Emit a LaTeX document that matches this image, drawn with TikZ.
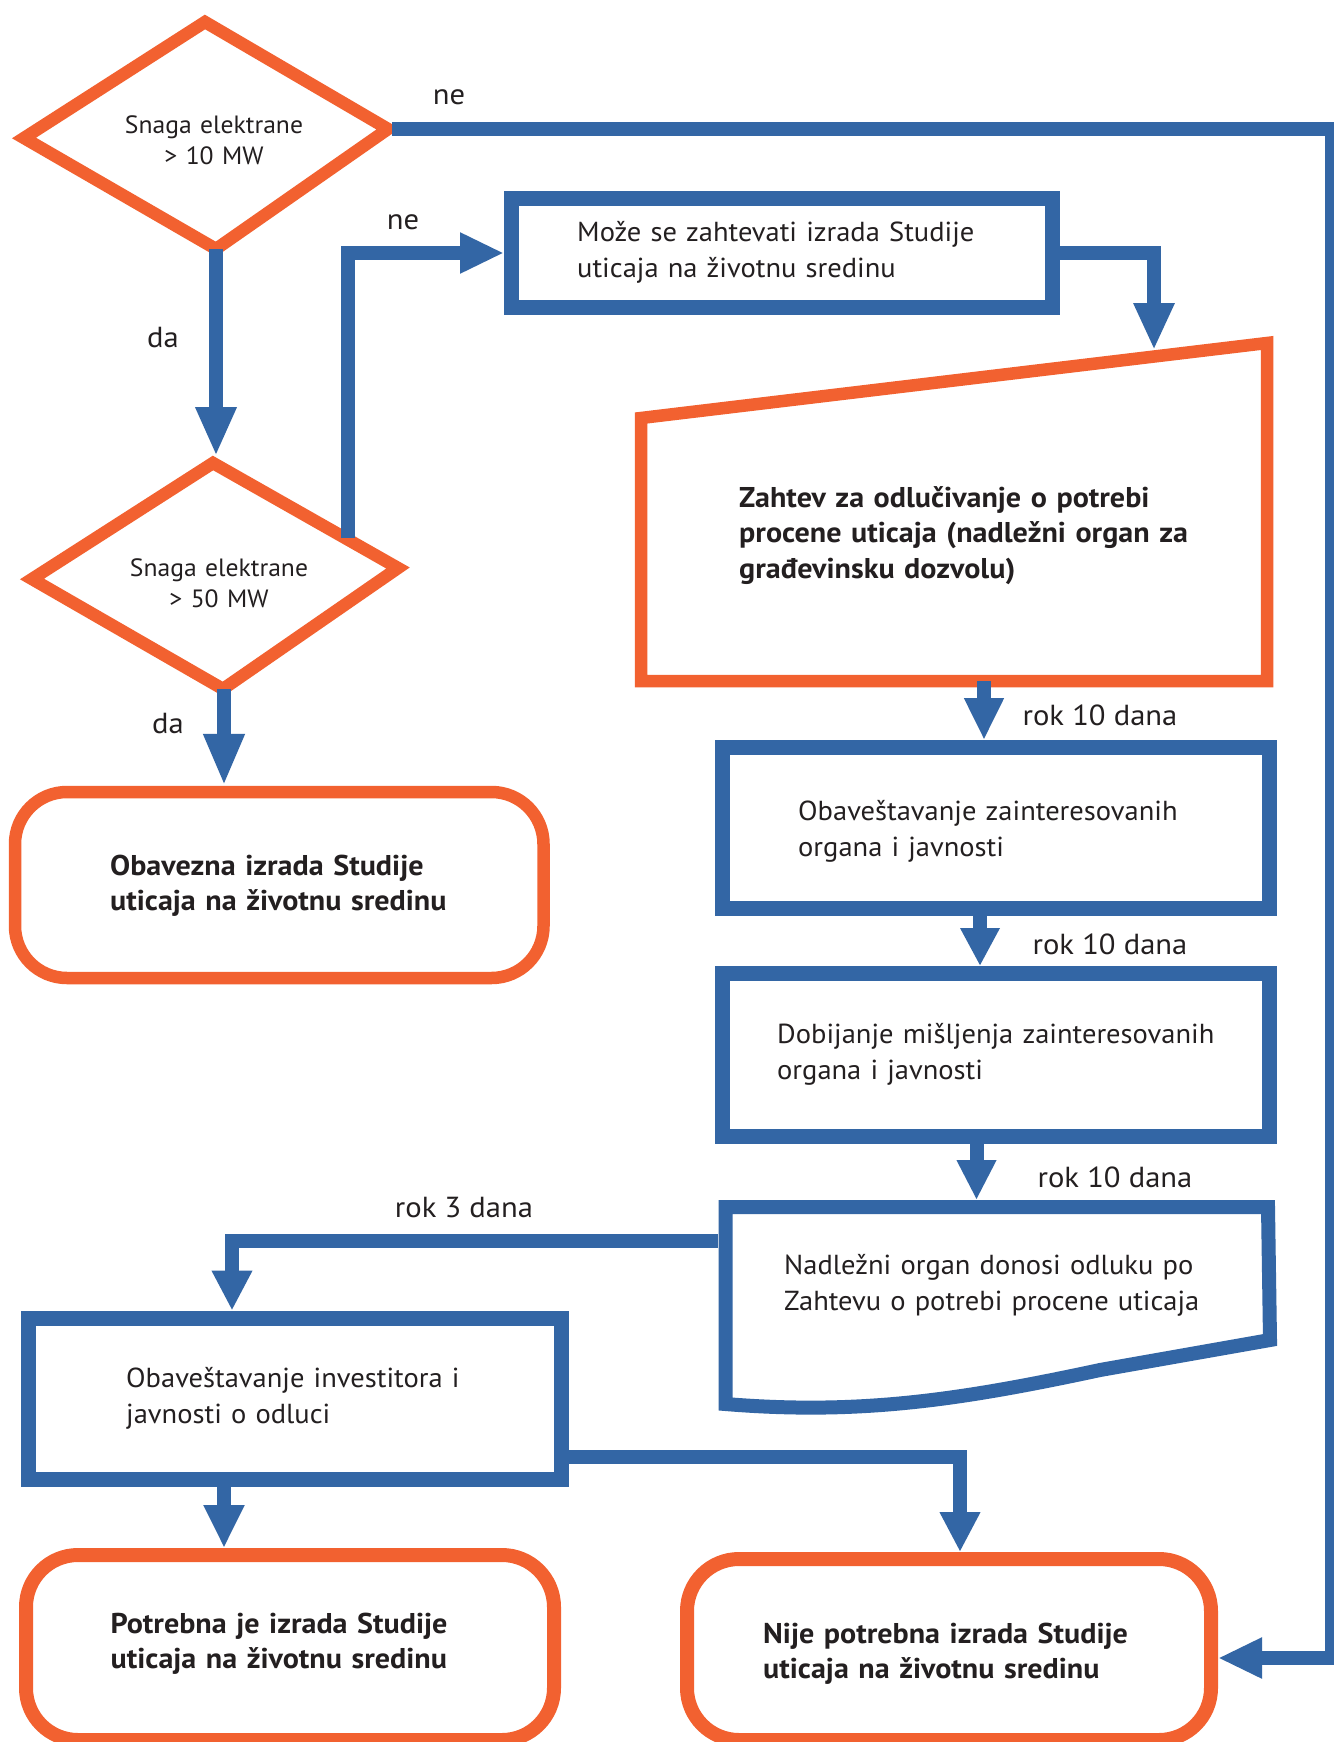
\documentclass[tikz,border=0pt]{standalone}
\usepackage{fontspec}
\setmainfont{PT Sans}
\newfontfamily\bodyf[FakeStretch=1.037]{PT Sans}
\newfontfamily\boldf[FakeStretch=1.052]{PT Sans}
\newfontfamily\lblf[FakeStretch=1.055]{PT Sans}
\newfontfamily\diaf[FakeStretch=1.025]{PT Sans}
\usetikzlibrary{arrows.meta}
\definecolor{orng}{HTML}{F26130}
\definecolor{blu}{HTML}{3366A5}
\definecolor{txt}{HTML}{231F20}
\tikzset{
  conn/.style={draw=blu, line width=14pt, -{Triangle[length=44pt,width=38pt]}},
  bluebox/.style={draw=blu, line width=15pt, rectangle, inner sep=0pt},
  roundbox/.style={draw=orng, line width=13pt, rectangle, rounded corners=52pt, inner sep=0pt},
  orngshape/.style={draw=orng, line width=12.5pt, line join=miter},
  bodytxt/.style={inner sep=0pt, anchor=base west, text width=560pt, align=left, text=txt,
                  font=\bodyf\fontsize{27.5}{36}\selectfont},
  boldtxt/.style={bodytxt, font=\boldf\fontsize{28.6}{35.5}\selectfont\bfseries},
  dtxt/.style={inner sep=0pt, anchor=base, text width=300pt, align=center, text=txt,
               font=\diaf\fontsize{25}{31}\selectfont},
  lbl/.style={inner sep=0pt, anchor=base, text=txt, font=\lblf\fontsize{29}{34}\selectfont}
}
\begin{document}
\begin{tikzpicture}[x=1pt,y=-1pt]
\useasboundingbox (0,0) rectangle (1333,1742);
\fill[white] (0,0) rectangle (1333,1742);

% diamonds
\draw[orngshape] (205,22) -- (388,129) -- (216,249) -- (24,138) -- cycle;
\draw[orngshape] (213,463) -- (398,568) -- (223,689) -- (32,579) -- cycle;
\coordinate (d1r) at (392,129.5);
\coordinate (d1b) at (216,249);
\coordinate (d2t) at (216,456);
\coordinate (d2ne) at (348,538);
\coordinate (d2b) at (224,689);
\node[dtxt] (d1txt) at (214,134) {Snaga elektrane\\> 10 MW};
\node[dtxt] (d2txt) at (219,576) {Snaga elektrane\\> 50 MW};

% blue rectangles
\node[bluebox, minimum width=541pt, minimum height=109pt] (box2) at (782,253) {};
\node[bluebox, minimum width=546.5pt, minimum height=161pt] (box4) at (995.75,828) {};
\node[bluebox, minimum width=546.5pt, minimum height=162.5pt] (box5) at (995.75,1054.75) {};
\node[bluebox, minimum width=532.5pt, minimum height=161.5pt] (box7) at (294.75,1398.75) {};

% manual input shape
\draw[orngshape] (641,418) -- (1267,343) -- (1267,681) -- (641,681) -- cycle;
\coordinate (b3top) at (1154,350);
\coordinate (b3bot) at (984,681);

% document shape
\draw[draw=blu, line width=14pt, line join=miter] (725.5,1207) -- (1268,1207) -- (1270,1340) -- (1100,1370)
   .. controls (960,1400) and (860,1415) .. (725.5,1404) -- cycle;
\coordinate (b6top) at (976.5,1200);
\coordinate (b6l) at (718,1241);

% rounded terminals
\node[roundbox, line width=12.5pt, minimum width=528.5pt, minimum height=186pt] (box1) at (279.25,885) {};
\node[roundbox, line width=14pt, minimum width=528pt, minimum height=185pt] (box8) at (290,1647.5) {};
\node[roundbox, line width=14pt, minimum width=524pt, minimum height=181pt] (box9) at (949,1649.5) {};

% texts
\node[bodytxt] (t2) at (577,241) {Može se zahtevati izrada Studije\\uticaja na životnu sredinu};
\node[boldtxt] (t3) at (739,507) {Zahtev za odlučivanje o potrebi\\procene uticaja (nadležni organ za\\građevinsku dozvolu)};
\node[bodytxt] (t4) at (798,820) {Obaveštavanje zainteresovanih\\organa i javnosti};
\node[bodytxt] (t5) at (777,1043) {Dobijanje mišljenja zainteresovanih\\organa i javnosti};
\node[bodytxt] (t6) at (784,1274) {Nadležni organ donosi odluku po\\Zahtevu o potrebi procene uticaja};
\node[bodytxt] (t7) at (126,1387) {Obaveštavanje investitora i\\javnosti o odluci};
\node[boldtxt] (t1) at (110,875) {Obavezna izrada Studije\\uticaja na životnu sredinu};
\node[boldtxt] (t8) at (110.5,1633) {Potrebna je izrada Studije\\uticaja na životnu sredinu};
\node[boldtxt] (t9) at (763,1643) {Nije potrebna izrada Studije\\uticaja na životnu sredinu};

% connectors
\coordinate (rtop) at (1332,129.5);
\coordinate (rbot) at (1332,1658);
\draw[conn] (d1r) -- (rtop) -- (rbot) -- (box9.east |- rbot);
\draw[conn, -{Triangle[length=49pt,width=38pt]}] (d1b) -- (d2t);
\draw[conn] (d2ne) |- (box2.west);
\draw[conn, -{Triangle[length=47pt,width=38pt]}] (box2.east) -| (b3top);
\draw[conn, -{Triangle[length=42pt,width=37pt]}] (b3bot) -- (b3bot |- box4.north);
\draw[conn, -{Triangle[length=38pt,width=37pt]}] ([xshift=-15.75pt]box4.south) -- ([xshift=-15.75pt]box5.north);
\draw[conn, -{Triangle[length=40pt,width=37pt]}] ([xshift=-19.25pt]box5.south) -- (b6top);
\draw[conn, -{Triangle[length=40pt,width=38pt]}] (b6l) -| ([xshift=-62.75pt]box7.north);
\draw[conn, -{Triangle[length=43pt,width=38pt]}] ([xshift=-70.75pt]box7.south) -- ([xshift=-70.75pt]box7.south |- box8.north);
\draw[conn, -{Triangle[length=40pt,width=38pt]}] ([yshift=-58.25pt]box7.east) -| ([xshift=11pt]box9.north);
\draw[conn, -{Triangle[length=52pt,width=38pt]}] (d2b) -- (d2b |- box1.north);

% labels
\node[lbl] (ne1) at (449,105) {ne};
\node[lbl] (ne2) at (403,229) {ne};
\node[lbl] (da1) at (163,347) {da};
\node[lbl] (da2) at (168,733) {da};
\node[lbl] (rok1) at (1100,725) {rok 10 dana};
\node[lbl] (rok2) at (1110,954) {rok 10 dana};
\node[lbl] (rok3) at (1115,1187) {rok 10 dana};
\node[lbl] (rok4) at (464,1217) {rok 3 dana};
\end{tikzpicture}
\end{document}
